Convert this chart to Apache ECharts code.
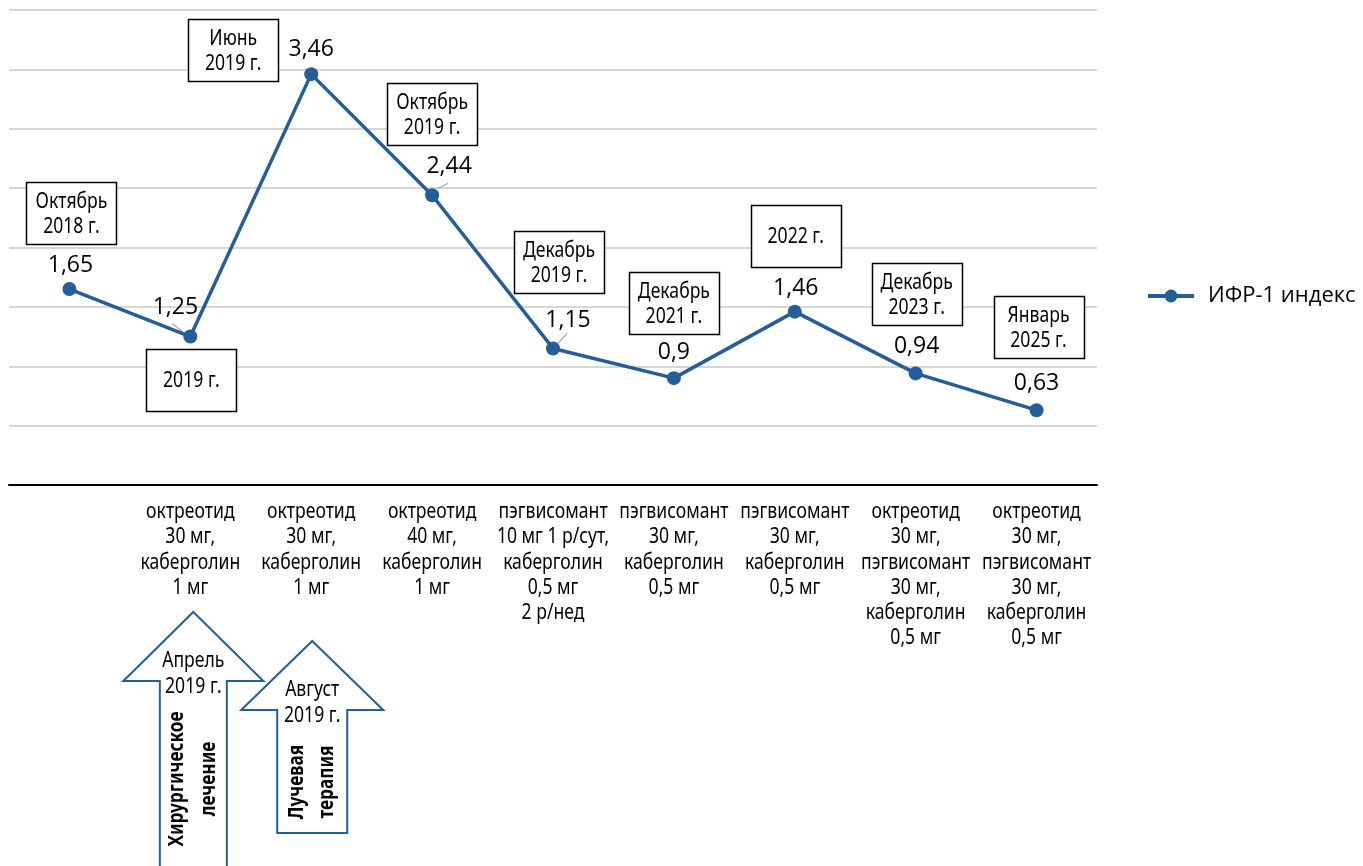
<!DOCTYPE html>
<html><head><meta charset="utf-8">
<script src="https://cdn.jsdelivr.net/npm/echarts@6/dist/echarts.min.js"></script>
<style>html,body{margin:0;padding:0;background:#fff}#c{width:1363px;height:866px}</style>
</head><body><div id="c"></div>
<script>
// ---- data ----
const seriesName = 'ИФР-1 индекс';
const categories = [
  '',
  'октреотид\n30 мг,\nкаберголин\n1 мг',
  'октреотид\n30 мг,\nкаберголин\n1 мг',
  'октреотид\n40 мг,\nкаберголин\n1 мг',
  'пэгвисомант\n10 мг 1 р/сут,\nкаберголин\n0,5 мг\n2 р/нед',
  'пэгвисомант\n30 мг,\nкаберголин\n0,5 мг',
  'пэгвисомант\n30 мг,\nкаберголин\n0,5 мг',
  'октреотид\n30 мг,\nпэгвисомант\n30 мг,\nкаберголин\n0,5 мг',
  'октреотид\n30 мг,\nпэгвисомант\n30 мг,\nкаберголин\n0,5 мг'
];
const values = [1.65, 1.25, 3.46, 2.44, 1.15, 0.9, 1.46, 0.94, 0.63];
const dateLabels = [
  'Октябрь\n2018 г.', '2019 г.', 'Июнь\n2019 г.', 'Октябрь\n2019 г.', 'Декабрь\n2019 г.',
  'Декабрь\n2021 г.', '2022 г.', 'Декабрь\n2023 г.', 'Январь\n2025 г.'
];
const yMin = 0, yMax = 4, yInterval = 0.5;
const events = [
  { cat: 1, date: 'Апрель\n2019 г.', text: 'Хирургическое\nлечение' },
  { cat: 2, date: 'Август\n2019 г.', text: 'Лучевая\nтерапия' }
];

// ---- layout (annotation placement relative to points) ----
const labelOffsets = [[1,-1],[-15,-7],[0,-2],[17,-6],[15,-5],[0,-3],[1,-1],[1,-4],[0,-4]];
const boxOffsets = [[2,-76],[1,43],[-78,-24],[0,-81],[6,-86],[0,-75],[1,-76],[1,-79],[2,-83]];
const leaders = { 1: [[-18,-13],[-7,-4]], 3: [[6,-7],[16,-12]], 4: [[5,-5],[14,-15]] };
const arrowGeom = [
  { dx: 3, tipY: 612, baseY: 681, wing: 70, shaft: 33.5, bottom: 880, dateY: 674, textY: 779, lh: 32 },
  { dx: 1, tipY: 641, baseY: 710, wing: 71, shaft: 35, bottom: 833, dateY: 703, textY: 782, lh: 30 }
];

const BLUE = '#245D98';
const COND = '"Noto Sans","Open Sans",sans-serif';
const CSCALE = 0.8;
const SANS = '"Open Sans","Noto Sans",sans-serif';

const fmt = v => String(v).replace('.', ',');

const chart = echarts.init(document.getElementById('c'), null, { renderer: 'canvas' });
const option = {
  animation: false,
  backgroundColor: '#fff',
  grid: { left: 9, right: 266, top: 10, bottom: 381, containLabel: false },
  legend: {
    data: [seriesName], left: 1146, top: 285, itemWidth: 46, itemHeight: 16, padding: 0,
    lineStyle: { width: 4 },
    textStyle: { fontFamily: SANS, fontSize: 22, color: '#000', padding: [0, 0, 0, 9] }
  },
  xAxis: {
    type: 'category', data: categories, boundaryGap: true,
    axisLine: { lineStyle: { color: '#000', width: 2 } },
    axisTick: { show: false },
    axisLabel: { show: false }
  },
  yAxis: {
    type: 'value', min: yMin, max: yMax, interval: yInterval,
    axisLine: { show: false }, axisTick: { show: false }, axisLabel: { show: false },
    splitLine: { lineStyle: { color: '#c8c8c8', width: 1.5 } }
  },
  series: [{
    name: seriesName, type: 'line', data: values.map((v, i) => ({
      value: v, label: { offset: labelOffsets[i] }
    })),
    color: BLUE, lineStyle: { color: BLUE, width: 3.5 },
    symbol: 'circle', symbolSize: 14, itemStyle: { color: BLUE },
    label: { show: true, position: 'top', distance: 4, formatter: p => fmt(p.value), fontFamily: SANS, fontSize: 23, color: '#000' },
    z: 3
  }]
};
chart.setOption(option);

function ctext(text, x, y, o) {
  o = o || {};
  return {
    type: 'text', z: 4, x: x, y: y, rotation: o.rotation || 0, scaleX: o.scale || CSCALE, scaleY: 1,
    style: {
      text: text, fontFamily: COND, fontSize: o.size || 22, fontWeight: o.weight || 'normal',
      lineHeight: o.lh || 25.5, align: 'center', verticalAlign: o.va || 'middle',
      textAlign: 'center', textVerticalAlign: o.va || 'middle', fill: '#000'
    }
  };
}

const g = [];
// category labels under the axis
categories.forEach((c, i) => {
  if (!c) return;
  const x = chart.convertToPixel({ xAxisIndex: 0 }, i);
  g.push(ctext(c, x, 499, { va: 'top', lh: 25.3 }));
});
values.forEach((v, i) => {
  const p = chart.convertToPixel({ seriesIndex: 0 }, [i, v]);
  const cx = p[0] + boxOffsets[i][0], cy = p[1] + boxOffsets[i][1];
  g.push({ type: 'rect', z: 1, shape: { x: Math.round(cx - 45) + 0.5, y: Math.round(cy - 31) + 0.5, width: 90, height: 62 },
    style: { fill: '#fff', stroke: '#000', lineWidth: 1.5 } });
  g.push(ctext(dateLabels[i], cx, cy + 1, { lh: 25 }));
  if (leaders[i]) {
    const L = leaders[i];
    g.push({ type: 'line', z: 2, shape: { x1: p[0] + L[0][0], y1: p[1] + L[0][1], x2: p[0] + L[1][0], y2: p[1] + L[1][1] },
      style: { stroke: '#a6a6a6', lineWidth: 1.2 } });
  }
});
events.forEach((e, k) => {
  const a = arrowGeom[k];
  const x = chart.convertToPixel({ xAxisIndex: 0 }, e.cat) + a.dx;
  g.push({ type: 'polygon', z: 1, shape: { points: [
      [x, a.tipY], [x + a.wing, a.baseY], [x + a.shaft, a.baseY], [x + a.shaft, a.bottom],
      [x - a.shaft, a.bottom], [x - a.shaft, a.baseY], [x - a.wing, a.baseY]
    ] }, style: { fill: '#fff', stroke: BLUE, lineWidth: 2 } });
  g.push(ctext(e.date, x, a.dateY, { lh: 26 }));
  g.push(ctext(e.text, x, a.textY, { rotation: Math.PI / 2, weight: 'bold', size: 21, lh: a.lh, scale: 0.82 }));
});
chart.setOption({ graphic: g });
</script>
</body></html>
